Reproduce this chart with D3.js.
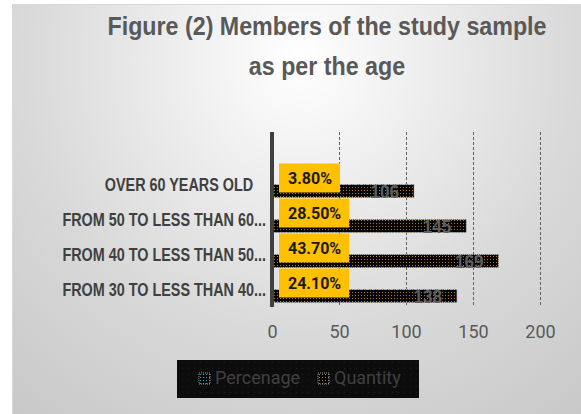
<!DOCTYPE html>
<html>
<head>
<meta charset="utf-8">
<script src="https://cdn.jsdelivr.net/npm/d3@7"></script>
<style>
  body { margin: 0; background: #ffffff; }
  svg { display: block; }
</style>
</head>
<body>
<div id="chart"></div>
<script>
// categories from top to bottom (first one is the empty slot Excel left at the top)
var categories = ["", "OVER 60 YEARS OLD", "FROM 50 TO LESS THAN 60...", "FROM 40 TO LESS THAN 50...", "FROM 30 TO LESS THAN 40..."];
var seriesNames = ["Percenage", "Quantity"];
var percentValues = [null, 0.038, 0.285, 0.437, 0.241];
var percentLabels = ["", "3.80%", "28.50%", "43.70%", "24.10%"];
var quantityValues = [null, 106, 145, 169, 138];
var xTicks = [0, 50, 100, 150, 200];
var titleLines = ["Figure (2) Members of the study sample", "as per the age"];

var totalWidth = 581;
var totalHeight = 414;

var svg = d3.select('#chart')
    .append('svg')
        .attr('width', totalWidth)
        .attr('height', totalHeight);

var defs = svg.append('defs');

// background gradient
var grad = defs.append('radialGradient')
    .attr('id', 'bgGrad')
    .attr('gradientUnits', 'userSpaceOnUse')
    .attr('cx', 300).attr('cy', 60).attr('r', 460);
grad.append('stop').attr('offset', 0).attr('stop-color', '#ffffff');
grad.append('stop').attr('offset', 0.6).attr('stop-color', '#d9d9d9');
grad.append('stop').attr('offset', 1).attr('stop-color', '#c8c8c8');

// dotted fills like the excel pattern fill
function dotPattern(id, bg, dot) {
    var p = defs.append('pattern')
        .attr('id', id)
        .attr('patternUnits', 'userSpaceOnUse')
        .attr('width', 3).attr('height', 3);
    p.append('rect').attr('width', 3).attr('height', 3).attr('fill', bg);
    p.append('rect').attr('x', 1).attr('y', 1).attr('width', 1).attr('height', 1).attr('fill', dot);
}
dotPattern('patQty', '#050505', '#b07428');
dotPattern('patPct', '#050505', '#2aa6ae');

var legPat = defs.append('pattern')
    .attr('id', 'patLegend')
    .attr('patternUnits', 'userSpaceOnUse')
    .attr('width', 6).attr('height', 6);
legPat.append('rect').attr('width', 6).attr('height', 6).attr('fill', '#0c0c0c');
legPat.append('rect').attr('x', 2).attr('y', 2).attr('width', 1).attr('height', 1).attr('fill', '#1e1e1e');

// chart area
svg.append('rect')
    .attr('x', 12.5).attr('y', 4.5)
    .attr('width', 580).attr('height', 420)
    .attr('fill', 'url(#bgGrad)')
    .attr('stroke', '#d9d9d9');

// title (squeezed a bit to look like the narrow office font)
svg.selectAll('.title').data(titleLines).enter().append('text')
    .attr('class', 'title')
    .attr('transform', function(d, i) { return 'translate(327,' + (35 + i * 40) + ') scale(0.93,1)'; })
    .attr('text-anchor', 'middle')
    .attr('font-family', '"Liberation Sans", Arial, sans-serif')
    .attr('font-weight', 'bold')
    .attr('font-size', 25)
    .attr('fill', '#595959')
    .text(function(d) { return d; });

// scales
var x = d3.scaleLinear().domain([0, 200]).range([272, 540]);
var y = d3.scaleBand().domain(categories).range([132, 307]).paddingInner(0.257).paddingOuter(0.1285);
var y1 = d3.scaleBand().domain(seriesNames).range([0, y.bandwidth()]);

// gridlines
svg.selectAll('.grid').data(xTicks.slice(1)).enter().append('line')
    .attr('class', 'grid')
    .attr('x1', function(d) { return x(d) + 0.5; })
    .attr('x2', function(d) { return x(d) + 0.5; })
    .attr('y1', 132).attr('y2', 307)
    .attr('stroke', '#606060')
    .attr('stroke-dasharray', '3,2');

// x axis labels only
var xAxis = d3.axisBottom(x).tickValues(xTicks).tickSize(0).tickPadding(0);
var gx = svg.append('g')
    .attr('class', 'x axis')
    .attr('transform', 'translate(0,' + 325 + ')')
    .call(xAxis);
gx.select('.domain').remove();
gx.selectAll('text')
    .attr('font-family', 'Roboto, sans-serif')
    .attr('font-size', 18)
    .attr('fill', '#595959');

// y axis labels
var yAxis = d3.axisLeft(y).tickSize(0).tickPadding(0);
var gy = svg.append('g')
    .attr('class', 'y axis')
    .attr('transform', 'translate(266,0) scale(0.8,1)')
    .call(yAxis);
gy.select('.domain').remove();
gy.selectAll('text')
    .attr('font-family', '"Liberation Sans", Arial, sans-serif')
    .attr('font-weight', 'bold')
    .attr('font-size', 18)
    .attr('fill', '#404040')
    .attr('dy', '0.36em')
    .attr('x', function(d) { return d.slice(-3) == '...' ? 0 : -16; });

var rows = categories.map(function(c, i) {
    return { cat: c, pct: percentValues[i], pctLabel: percentLabels[i], qty: quantityValues[i] };
}).filter(function(d) { return d.qty != null; });

// quantity bars
svg.selectAll('.qty').data(rows).enter().append('rect')
    .attr('class', 'qty')
    .attr('x', x(0))
    .attr('y', function(d) { return y(d.cat) + y1('Quantity'); })
    .attr('width', function(d) { return x(d.qty) - x(0); })
    .attr('height', y1.bandwidth())
    .attr('fill', 'url(#patQty)')
    .attr('stroke', '#b0b0b0')
    .attr('stroke-dasharray', '1,1');

// percentage bars (tiny on this scale)
svg.selectAll('.pct').data(rows).enter().append('rect')
    .attr('class', 'pct')
    .attr('x', x(0))
    .attr('y', function(d) { return y(d.cat) + y1('Percenage'); })
    .attr('width', function(d) { return x(d.pct) - x(0); })
    .attr('height', y1.bandwidth())
    .attr('fill', 'url(#patPct)');

// quantity value labels
svg.selectAll('.qtyLabel').data(rows).enter().append('text')
    .attr('class', 'qtyLabel')
    .attr('transform', function(d) {
        return 'translate(' + (x(d.qty) - 15) + ',' + (y(d.cat) + y1('Quantity') + y1.bandwidth() / 2) + ') scale(0.9,1)';
    })
    .attr('dy', '0.36em')
    .attr('text-anchor', 'end')
    .attr('font-family', '"Liberation Sans", Arial, sans-serif')
    .attr('font-weight', 'bold')
    .attr('font-size', 19)
    .attr('fill', '#5e5e5e')
    .text(function(d) { return d.qty; });

// axis line (drawn over bar starts)
svg.append('rect')
    .attr('x', x(0) - 2).attr('y', 132)
    .attr('width', 4).attr('height', 175)
    .attr('fill', '#404040');

// percentage labels in yellow boxes
var pl = svg.selectAll('.pctLabel').data(rows).enter().append('g')
    .attr('class', 'pctLabel')
    .attr('transform', function(d) {
        return 'translate(' + (x(0) + 7) + ',' + (y(d.cat) + y1('Percenage') + y1.bandwidth() / 2) + ')';
    });
var plRect = pl.append('rect')
    .attr('y', -14.5)
    .attr('height', 29)
    .attr('fill', '#ffc000');
var plText = pl.append('text')
    .attr('x', 9)
    .attr('dy', '0.36em')
    .attr('font-family', 'Roboto, sans-serif')
    .attr('font-weight', 'bold')
    .attr('font-size', 16)
    .attr('fill', '#1a1a1a')
    .text(function(d) { return d.pctLabel; });
plText.each(function(d) { d.tw = this.getComputedTextLength(); });
plRect.attr('width', function(d) { return d.tw + 17; });

// legend
var legend = svg.append('g').attr('class', 'legend');
legend.append('rect')
    .attr('x', 177).attr('y', 360)
    .attr('width', 242).attr('height', 38)
    .attr('fill', 'url(#patLegend)');

var legendItems = [
    { name: seriesNames[0], fill: 'url(#patPct)', x: 199 },
    { name: seriesNames[1], fill: 'url(#patQty)', x: 318 }
];
var li = legend.selectAll('.item').data(legendItems).enter().append('g')
    .attr('class', 'item')
    .attr('transform', function(d) { return 'translate(' + d.x + ',373)'; });
li.append('rect')
    .attr('width', 11).attr('height', 11)
    .attr('fill', function(d) { return d.fill; })
    .attr('stroke', '#9a9a9a')
    .attr('stroke-dasharray', '1,1');
li.append('text')
    .attr('x', 16)
    .attr('y', 11)
    .attr('font-family', 'Roboto, sans-serif')
    .attr('font-size', 18)
    .attr('fill', '#404040')
    .text(function(d) { return d.name; });
</script>
</body>
</html>
